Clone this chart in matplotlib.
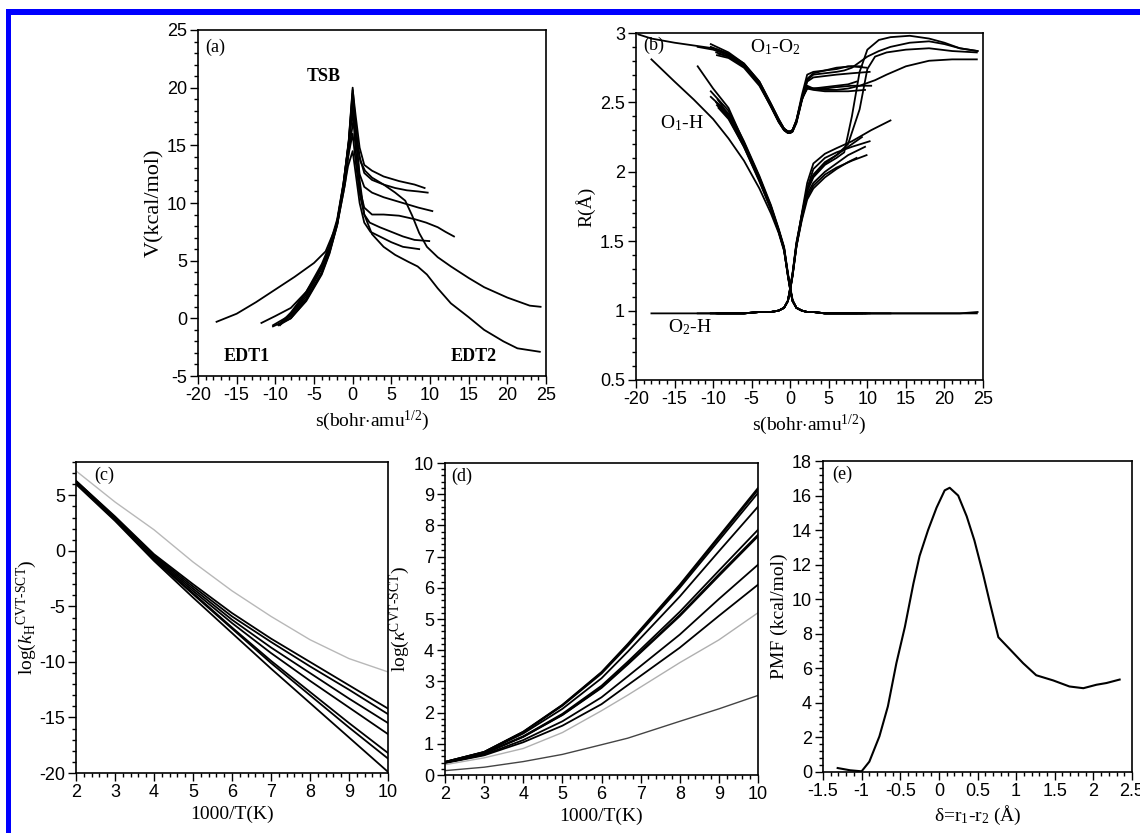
import numpy as np
import matplotlib
matplotlib.use('Agg')
import matplotlib.pyplot as plt
from matplotlib.ticker import MultipleLocator, FormatStrFormatter
from matplotlib.patches import Rectangle

plt.rcParams['font.family'] = 'Liberation Serif'
plt.rcParams['mathtext.fontset'] = 'custom'
plt.rcParams['mathtext.rm'] = 'Liberation Serif'
plt.rcParams['mathtext.it'] = 'Liberation Serif:italic'
plt.rcParams['axes.unicode_minus'] = False

nan = np.nan

# ---- panel (a): V along the reaction path, one curve per trajectory
a_s = [
    [-17.6, -15, -12.5, -10, -7.5, -5, -3.5, -2, -1, -0.4, 0.1, 0.5, 1.0, 1.6, 2.5, 4, 5.5, 6.8, 7.7, 8.6, 9.6, 11, 12.7, 15, 17, 20, 22.9, 24.3],
    [-11.8, -10, -8, -6, -4, -3, -2, -1.2, -0.5, 0, 0.4, 0.9, 1.5, 2.5, 4, 5.5, 7.2, 8.4, 9.6, 11, 12.7, 15, 17, 19.5, 21.3, 24.2],
    [-10.3, -8, -6, -4, -3, -2, -1.2, -0.5, 0, 0.4, 0.9, 1.5, 2.5, 4, 6, 8, 9.3],
    [-10.3, -8, -6, -4, -3, -2, -1.2, -0.5, 0, 0.4, 0.9, 1.5, 2.5, 4, 5.5, 7, 8.5, 9.7],
    [-9.6, -8, -6, -4, -3, -2, -1.2, -0.5, 0, 0.4, 0.9, 1.5, 2.5, 4, 5.5, 7, 8.5, 10.3],
    [-9.5, -8, -6, -4, -3, -2, -1.2, -0.5, 0, 0.4, 0.9, 1.5, 2.5, 4, 6, 8, 9.5, 11, 12, 13.1],
    [-9.4, -8, -6, -4, -3, -2, -1.2, -0.6, 0, 0.4, 0.9, 1.5, 2.2, 3.5, 5, 6.5, 8, 9.9],
    [-9.3, -8, -6, -4, -3, -2, -1.2, -0.6, 0, 0.4, 0.9, 1.5, 2.3, 3.5, 5, 6.5, 8.6],
]
a_V = [
    [-0.3, 0.4, 1.4, 2.5, 3.6, 4.8, 5.8, 8.2, 11.6, 15.0, 17.2, 15.4, 13.6, 12.8, 12.2, 11.6, 10.9, 10.2, 8.9, 7.4, 6.2, 5.3, 4.5, 3.5, 2.7, 1.8, 1.1, 1.0],
    [-0.4, 0.2, 0.9, 2.3, 4.4, 6.0, 8.4, 11.6, 15.5, 20.0, 16.5, 12.0, 9.0, 7.3, 6.2, 5.5, 4.9, 4.5, 3.8, 2.6, 1.3, 0.1, -1.0, -2.0, -2.6, -2.9],
    [-0.7, 0.0, 1.5, 3.8, 5.6, 8.1, 11.4, 15.4, 19.8, 17.5, 14.8, 13.3, 12.8, 12.3, 11.9, 11.6, 11.3],
    [-0.6, 0.3, 1.9, 4.3, 6.0, 8.4, 11.6, 15.3, 19.5, 16.5, 14.0, 12.6, 12.0, 11.6, 11.3, 11.1, 11.0, 10.9],
    [-0.6, 0.5, 2.3, 4.7, 6.3, 8.6, 11.7, 15.2, 19.0, 15.5, 12.5, 11.4, 10.9, 10.5, 10.2, 9.9, 9.6, 9.3],
    [-0.5, 0.2, 1.7, 4.0, 5.8, 8.2, 11.4, 15.0, 18.0, 14.5, 11.2, 9.6, 9.0, 9.0, 8.9, 8.6, 8.3, 7.9, 7.5, 7.1],
    [-0.6, 0.4, 2.1, 4.5, 6.1, 8.4, 11.3, 14.0, 16.0, 13.5, 10.8, 9.0, 8.3, 7.9, 7.5, 7.1, 6.8, 6.7],
    [-0.5, 0.0, 1.6, 3.9, 5.7, 8.1, 10.9, 13.2, 14.5, 12.5, 10.0, 8.3, 7.5, 7.1, 6.6, 6.2, 6.0],
]

# ---- panel (b): distances along the path (O1-O2, O1-H, O2-H) per trajectory
b_s = [
    [-19.7, -18, -15, -12.5, -10, -8, -6, -4, -2.5, -1.5, -0.8, -0.3, 0, 0.3, 0.8, 1.5, 2.2, 3, 4.5, 6, 7, 8, 9, 10, 11.5, 13, 15.5, 18, 20, 22, 24.3],
    [-12, -10, -8, -6, -4, -2.5, -1.5, -0.8, -0.3, 0, 0.3, 0.8, 1.5, 2.2, 3, 4.5, 6, 7.5, 9, 10, 11, 12.5, 15, 18, 21, 24.2],
    [-10.3, -8, -6, -4, -2.5, -1.5, -0.8, -0.3, 0, 0.3, 0.8, 1.5, 2.2, 3, 4.5, 6, 7.5, 9.3],
    [-10.3, -8, -6, -4, -2.5, -1.5, -0.8, -0.3, 0, 0.3, 0.8, 1.5, 2.2, 3, 4.5, 6, 7.5, 9.7],
    [-9.6, -8, -6, -4, -2.5, -1.5, -0.8, -0.3, 0, 0.3, 0.8, 1.5, 2.2, 3, 4.5, 6, 8, 10.3],
    [-9.5, -8, -6, -4, -2.5, -1.5, -0.8, -0.3, 0, 0.3, 0.8, 1.5, 2.2, 3, 4.5, 6, 8, 10.5, 13],
    [-9.4, -8, -6, -4, -2.5, -1.5, -0.8, -0.3, 0, 0.3, 0.8, 1.5, 2.2, 3, 4.5, 6, 8, 9.9],
    [-9.3, -8, -6, -4, -2.5, -1.5, -0.8, -0.3, 0, 0.3, 0.8, 1.5, 2.2, 3, 4.5, 6, 7.5, 8.6],
]
b_O1O2 = [
    [2.99, 2.96, 2.93, 2.91, 2.89, 2.85, 2.78, 2.65, 2.49, 2.38, 2.31, 2.29, 2.29, 2.30, 2.36, 2.52, 2.66, 2.70, 2.71, 2.72, 2.73, 2.75, 2.79, 2.83, 2.87, 2.90, 2.93, 2.94, 2.92, 2.89, 2.87],
    [2.90, 2.88, 2.84, 2.77, 2.64, 2.48, 2.37, 2.31, 2.29, 2.29, 2.30, 2.37, 2.53, 2.62, 2.60, 2.59, 2.59, 2.60, 2.62, 2.64, 2.66, 2.70, 2.76, 2.80, 2.81, 2.81],
    [2.92, 2.86, 2.78, 2.65, 2.49, 2.38, 2.31, 2.29, 2.29, 2.30, 2.36, 2.52, 2.67, 2.71, 2.73, 2.74, 2.76, 2.76],
    [2.90, 2.85, 2.77, 2.64, 2.48, 2.37, 2.31, 2.29, 2.29, 2.30, 2.37, 2.53, 2.60, 2.59, 2.58, 2.58, 2.58, 2.59],
    [2.86, 2.83, 2.76, 2.63, 2.47, 2.36, 2.30, 2.28, 2.28, 2.29, 2.35, 2.51, 2.65, 2.68, 2.69, 2.70, 2.71, 2.72],
    [2.84, 2.82, 2.75, 2.62, 2.47, 2.36, 2.30, 2.28, 2.28, 2.29, 2.36, 2.52, 2.60, 2.60, 2.60, 2.61, 2.62, 2.62, nan],
    [2.88, 2.84, 2.77, 2.64, 2.48, 2.37, 2.31, 2.29, 2.29, 2.30, 2.37, 2.55, 2.70, 2.72, 2.73, 2.75, 2.76, 2.75],
    [2.85, 2.83, 2.76, 2.63, 2.47, 2.36, 2.30, 2.28, 2.28, 2.29, 2.36, 2.52, 2.61, 2.60, 2.61, 2.62, 2.63, 2.65],
]
b_O1H = [
    [nan, 2.81, 2.65, 2.52, 2.38, 2.24, 2.08, 1.88, 1.70, 1.56, 1.43, 1.26, 1.16, 1.07, 1.02, 1.00, 0.99, 0.99, 0.98, 0.98, 0.98, 0.98, 0.98, 0.98, 0.98, 0.98, 0.98, 0.98, 0.98, 0.98, 0.99],
    [2.76, 2.60, 2.46, 2.21, 1.96, 1.74, 1.58, 1.45, 1.26, 1.16, 1.07, 1.02, 1.00, 0.99, 0.99, 0.98, 0.98, 0.98, 0.98, 0.98, 0.98, 0.98, 0.98, 0.98, 0.98, 0.98],
    [2.58, 2.44, 2.22, 1.97, 1.76, 1.59, 1.46, 1.27, 1.17, 1.08, 1.02, 1.00, 0.99, 0.99, 0.98, 0.98, 0.98, 0.98],
    [2.54, 2.42, 2.20, 1.95, 1.75, 1.58, 1.45, 1.26, 1.16, 1.07, 1.02, 1.00, 0.99, 0.99, 0.98, 0.98, 0.98, 0.98],
    [2.50, 2.40, 2.19, 1.94, 1.74, 1.57, 1.44, 1.25, 1.15, 1.07, 1.02, 1.00, 0.99, 0.99, 0.98, 0.98, 0.98, 0.98],
    [2.48, 2.39, 2.18, 1.94, 1.73, 1.57, 1.44, 1.25, 1.15, 1.07, 1.02, 1.00, 0.99, 0.99, 0.98, 0.98, 0.98, 0.98, 0.98],
    [2.52, 2.41, 2.21, 1.96, 1.75, 1.58, 1.45, 1.26, 1.16, 1.07, 1.02, 1.00, 0.99, 0.99, 0.98, 0.98, 0.98, 0.98],
    [2.46, 2.38, 2.18, 1.93, 1.73, 1.57, 1.44, 1.25, 1.15, 1.07, 1.02, 1.00, 0.99, 0.99, 0.98, 0.98, 0.98, 0.98],
]
b_O2H = [
    [nan, 0.98, 0.98, 0.98, 0.98, 0.98, 0.98, 0.99, 0.99, 1.00, 1.02, 1.07, 1.16, 1.26, 1.47, 1.68, 1.86, 1.96, 2.05, 2.10, 2.14, 2.40, 2.72, 2.88, 2.95, 2.97, 2.98, 2.96, 2.93, 2.89, 2.87],
    [0.98, 0.98, 0.98, 0.98, 0.99, 0.99, 1.00, 1.02, 1.07, 1.16, 1.26, 1.48, 1.69, 1.88, 1.98, 2.07, 2.12, 2.20, 2.45, 2.74, 2.83, 2.86, 2.88, 2.89, 2.87, 2.86],
    [0.98, 0.98, 0.98, 0.99, 0.99, 1.00, 1.02, 1.07, 1.17, 1.27, 1.49, 1.69, 1.87, 1.97, 2.06, 2.12, 2.18, 2.25],
    [0.98, 0.98, 0.98, 0.99, 0.99, 1.00, 1.02, 1.07, 1.16, 1.26, 1.47, 1.66, 1.84, 1.92, 2.00, 2.06, 2.12, 2.18],
    [0.98, 0.98, 0.98, 0.99, 0.99, 1.00, 1.02, 1.07, 1.15, 1.25, 1.46, 1.67, 1.88, 2.02, 2.10, 2.14, 2.18, 2.22],
    [0.98, 0.98, 0.98, 0.99, 0.99, 1.00, 1.02, 1.07, 1.15, 1.25, 1.46, 1.70, 1.92, 2.06, 2.13, 2.17, 2.22, 2.30, 2.37],
    [0.98, 0.98, 0.98, 0.99, 0.99, 1.00, 1.02, 1.07, 1.16, 1.26, 1.48, 1.67, 1.82, 1.90, 1.98, 2.03, 2.08, 2.12],
    [0.98, 0.98, 0.98, 0.99, 0.99, 1.00, 1.02, 1.07, 1.15, 1.25, 1.46, 1.65, 1.80, 1.88, 1.96, 2.02, 2.07, 2.10],
]

# ---- panel (c): log k_H vs 1000/T
c_x = [2, 3, 4, 5, 6, 7, 8, 9, 10]
c_black = [
    [6.3, 3.1, -0.3, -3.0, -5.6, -7.9, -10.0, -12.1, -14.2],
    [6.3, 3.0, -0.4, -3.2, -5.9, -8.2, -10.4, -12.5, -14.7],
    [6.2, 2.9, -0.5, -3.4, -6.2, -8.7, -11.0, -13.3, -15.5],
    [6.2, 2.9, -0.6, -3.6, -6.5, -9.2, -11.7, -14.1, -16.5],
    [6.1, 2.8, -0.7, -3.8, -6.9, -9.9, -12.7, -15.5, -18.2],
    [6.1, 2.8, -0.8, -3.9, -7.0, -10.1, -13.0, -15.9, -18.7],
    [6.0, 2.7, -0.9, -4.2, -7.4, -10.6, -13.7, -16.8, -19.9],
]
c_gray = [7.2, 4.4, 1.9, -1.0, -3.6, -5.9, -8.0, -9.7, -10.9]

# ---- panel (d): log kappa vs 1000/T
d_x = [2, 3, 4, 5, 6, 6.67, 8, 9, 10]
d_black = [
    [0.42, 0.74, 1.39, 2.25, 3.30, 4.20, 6.10, 7.65, 9.20],
    [0.42, 0.74, 1.38, 2.24, 3.28, 4.17, 6.06, 7.60, 9.14],
    [0.42, 0.73, 1.37, 2.22, 3.25, 4.13, 6.00, 7.52, 9.04],
    [0.41, 0.72, 1.33, 2.12, 3.10, 3.95, 5.72, 7.17, 8.60],
    [0.40, 0.69, 1.24, 1.96, 2.86, 3.63, 5.23, 6.55, 7.86],
    [0.40, 0.69, 1.23, 1.93, 2.81, 3.57, 5.13, 6.43, 7.70],
    [0.40, 0.69, 1.22, 1.92, 2.79, 3.54, 5.09, 6.38, 7.65],
    [0.39, 0.65, 1.12, 1.72, 2.49, 3.16, 4.50, 5.64, 6.74],
    [0.38, 0.63, 1.05, 1.58, 2.27, 2.88, 4.08, 5.10, 6.10],
]
d_gray = [0.33, 0.55, 0.85, 1.36, 2.06, 2.56, 3.60, 4.33, 5.20]
d_dark = [0.14, 0.25, 0.43, 0.66, 0.97, 1.18, 1.72, 2.12, 2.55]

# ---- panel (e): PMF
e_d = [-1.31, -1.15, -1.0, -0.9, -0.77, -0.66, -0.55, -0.44, -0.33, -0.25, -0.14, -0.03, 0.075, 0.14,
       0.25, 0.36, 0.46, 0.57, 0.66, 0.77, 0.92, 1.09, 1.26, 1.48, 1.69, 1.87, 2.04, 2.17, 2.34]
e_pmf = [0.23, 0.1, 0.04, 0.6, 2.06, 3.8, 6.3, 8.4, 10.9, 12.5, 14.0, 15.3, 16.3, 16.45,
         16.0, 14.8, 13.4, 11.5, 9.8, 7.8, 7.1, 6.3, 5.6, 5.3, 4.95, 4.85, 5.05, 5.15, 5.35]

W, H = 1140, 833
fig = plt.figure(figsize=(W / 100, H / 100), dpi=100)


def box(l, r, t, b):
    return fig.add_axes([l / W, 1 - b / H, (r - l) / W, (b - t) / H])


def style(ax, xmaj, xmin, ymaj, ymin):
    ax.xaxis.set_major_locator(MultipleLocator(xmaj))
    ax.xaxis.set_minor_locator(MultipleLocator(xmin))
    ax.yaxis.set_major_locator(MultipleLocator(ymaj))
    ax.yaxis.set_minor_locator(MultipleLocator(ymin))
    ax.xaxis.set_major_formatter(FormatStrFormatter('%g'))
    ax.yaxis.set_major_formatter(FormatStrFormatter('%g'))
    ax.tick_params(which='both', direction='out', top=False, right=False, width=1.0)
    ax.tick_params(which='major', length=6, labelsize=13, pad=2)
    ax.tick_params(which='minor', length=3)
    for lab in ax.get_xticklabels() + ax.get_yticklabels():
        lab.set_family('Liberation Sans')
    for sp in ax.spines.values():
        sp.set_linewidth(1.2)


LW = 1.3
lab_kw = dict(fontsize=14, labelpad=3)

# (a)
ax = box(198, 546, 30, 376)
for s, v in zip(a_s, a_V):
    ax.plot(s, v, color='black', lw=LW)
ax.set_xlim(-20, 25)
ax.set_ylim(-5, 25)
style(ax, 5, 1, 5, 1)
ax.set_ylabel('V(kcal/mol)', fontsize=16, labelpad=2)
ax.set_xlabel(r's(bohr$\cdot$amu$^{1/2}$)', **lab_kw)
ax.text(0.02, 0.975, '(a)', transform=ax.transAxes, va='top', fontsize=13)
ax.text(-3.7, 21, 'TSB', ha='center', va='center', fontsize=13, fontweight='bold')
ax.text(-13.7, -3.3, 'EDT1', ha='center', va='center', fontsize=13, fontweight='bold')
ax.text(15.6, -3.3, 'EDT2', ha='center', va='center', fontsize=13, fontweight='bold')

# (b)
ax = box(636, 983, 33, 380)
for s, r1, r2, r3 in zip(b_s, b_O1O2, b_O1H, b_O2H):
    ax.plot(s, r1, color='black', lw=LW)
    ax.plot(s, r2, color='black', lw=LW)
    ax.plot(s, r3, color='black', lw=LW)
ax.set_xlim(-20, 25)
ax.set_ylim(0.5, 3)
style(ax, 5, 1, 0.5, 0.1)
ax.set_ylabel('R(Å)', **lab_kw)
ax.set_xlabel(r's(bohr$\cdot$amu$^{1/2}$)', **lab_kw)
ax.text(0.02, 0.99, '(b)', transform=ax.transAxes, va='top', fontsize=13)
ax.text(-1.9, 2.9, 'O$_1$-O$_2$', ha='center', va='center', fontsize=14)
ax.text(-14, 2.35, 'O$_1$-H', ha='center', va='center', fontsize=14)
ax.text(-13, 0.88, 'O$_2$-H', ha='center', va='center', fontsize=14)

# (c)
ax = box(76, 388, 462, 773)
ax.plot(c_x, c_gray, color='#b8b8b8', lw=1.0)
for y in c_black:
    ax.plot(c_x, y, color='black', lw=LW)
ax.set_xlim(2, 10)
ax.set_ylim(-20, 8)
style(ax, 1, 0.2, 5, 1)
ax.set_ylabel(r'log($k_{\rm H}$$^{\rm CVT\text{-}SCT}$)', fontsize=14, labelpad=0)
ax.set_xlabel('1000/T(K)', **lab_kw)
ax.text(0.06, 0.985, '(c)', transform=ax.transAxes, va='top', fontsize=13)

# (d)
ax = box(445, 758, 463, 775)
for y in d_black:
    ax.plot(d_x, y, color='black', lw=LW)
ax.plot(d_x, d_gray, color='#b0b0b0', lw=1.0)
ax.plot(d_x, d_dark, color='#444444', lw=1.0)
ax.set_xlim(2, 10)
ax.set_ylim(0, 10)
style(ax, 1, 0.2, 1, 0.2)
ax.set_ylabel(r'log($\kappa$$^{\rm CVT\text{-}SCT}$)', fontsize=14, labelpad=1)
ax.set_xlabel('1000/T(K)', **lab_kw)
ax.text(0.02, 0.985, '(d)', transform=ax.transAxes, va='top', fontsize=13)

# (e)
ax = box(823, 1132, 461, 772)
ax.plot(e_d, e_pmf, color='black', lw=1.5)
ax.set_xlim(-1.5, 2.5)
ax.set_ylim(0, 18)
style(ax, 0.5, 0.1, 2, 0.4)
ax.set_ylabel('PMF (kcal/mol)', **lab_kw)
ax.set_xlabel('δ=r$_1$-r$_2$ (Å)', **lab_kw)
ax.text(0.03, 0.985, '(e)', transform=ax.transAxes, va='top', fontsize=13)

# blue frame on the top and left edges
fig.add_artist(Rectangle((6 / W, 1 - 15 / H), 1, 6 / H, transform=fig.transFigure,
                         color='#0000ff', lw=0))
fig.add_artist(Rectangle((6 / W, 0), 5 / W, 1 - 9 / H, transform=fig.transFigure,
                         color='#0000ff', lw=0))

fig.savefig('out.png', dpi=100)
